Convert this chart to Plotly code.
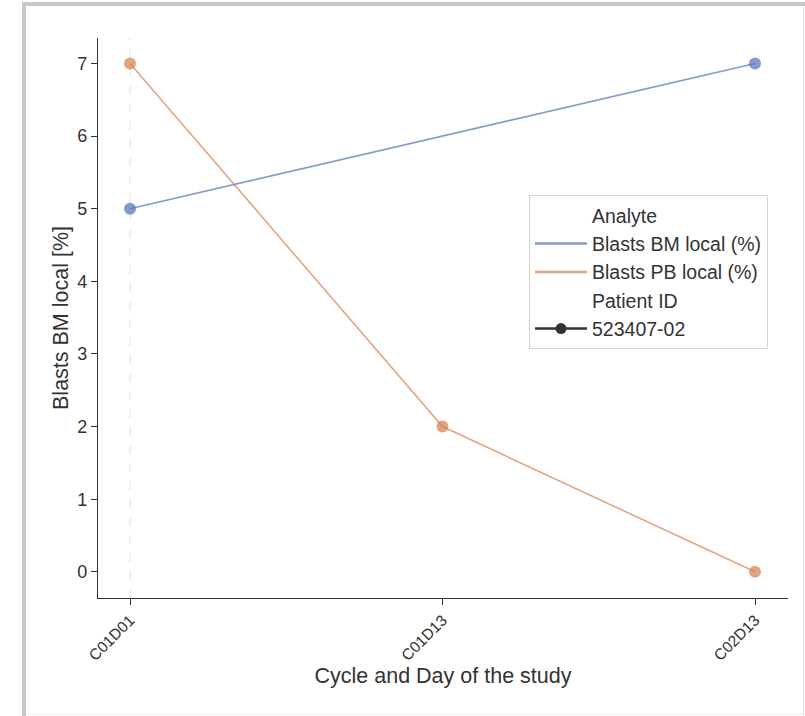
import plotly.graph_objects as go

# Study visits (category axis) and tick labels
visits = ["C01D01", "C01D13", "C02D13"]

# Analyte measurements per visit for patient 523407-02
bm_visits = ["C01D01", "C02D13"]
bm_values = [5, 7]
pb_visits = ["C01D01", "C01D13", "C02D13"]
pb_values = [7, 2, 0]

analytes = ["Blasts BM local (%)", "Blasts PB local (%)"]
patient_ids = ["523407-02"]
y_ticks = [0, 1, 2, 3, 4, 5, 6, 7]

BLUE = "rgba(82,118,182,0.72)"
ORANGE = "rgba(214,130,84,0.72)"
INK = "#333333"
FONT = "Liberation Sans, Arial, sans-serif"

W, H = 805, 716
L, R, T, B = 98, 17, 38, 118
PW, PH = W - L - R, H - T - B


def px_x(px):
    return (px - L) / PW


def px_y(py):
    return (H - B - py) / PH


fig = go.Figure()

for xs, ys, col in [(bm_visits, bm_values, BLUE), (pb_visits, pb_values, ORANGE)]:
    fig.add_trace(go.Scatter(
        x=xs, y=ys, mode="lines+markers",
        line=dict(color=col, width=1.6),
        marker=dict(color=col, size=12, line=dict(width=0)),
        showlegend=False, hoverinfo="x+y",
    ))

# Legend entries: group headers and styles
blank = "rgba(0,0,0,0)"
legend_rows = [
    ("Analyte", dict(color=blank, width=2), "lines", None),
    (analytes[0], dict(color=BLUE, width=2.5), "lines", None),
    (analytes[1], dict(color=ORANGE, width=2.5), "lines", None),
    ("Patient ID", dict(color=blank, width=2), "lines", None),
    (patient_ids[0], dict(color=INK, width=2.5), "lines+markers", dict(color=INK, size=11)),
]
for name, line, mode, marker in legend_rows:
    kw = dict(x=[None], y=[None], name=name, mode=mode, line=line, showlegend=True)
    if marker:
        kw["marker"] = marker
    fig.add_trace(go.Scatter(**kw))

shapes = [
    # dashed reference line at the first visit
    dict(type="line", xref="x", yref="paper", x0=visits[0], x1=visits[0], y0=0, y1=1,
         line=dict(color="#e0e0e0", width=1, dash="dash"), layer="below"),
    # outer frame
    dict(type="rect", xref="paper", yref="paper", x0=px_x(22), x1=px_x(26), y0=px_y(716), y1=px_y(2),
         fillcolor="#c8c8c8", line=dict(width=0)),
    dict(type="rect", xref="paper", yref="paper", x0=px_x(22), x1=px_x(805), y0=px_y(6), y1=px_y(2),
         fillcolor="#c8c8c8", line=dict(width=0)),
    dict(type="line", xref="paper", yref="paper", x0=px_x(803.5), x1=px_x(803.5), y0=px_y(716), y1=px_y(6),
         line=dict(color="#e6e6e6", width=1)),
    dict(type="line", xref="paper", yref="paper", x0=px_x(26), x1=px_x(805), y0=px_y(714.5), y1=px_y(714.5),
         line=dict(color="#eeeeee", width=1)),
]

fig.update_layout(
    width=W, height=H,
    margin=dict(l=L, r=R, t=T, b=B, pad=0),
    paper_bgcolor="white", plot_bgcolor="white",
    font=dict(family=FONT, color=INK),
    shapes=shapes,
    legend=dict(
        x=px_x(529), y=px_y(195), xanchor="left", yanchor="top",
        bgcolor="white", bordercolor="#d6d6d6", borderwidth=1,
        font=dict(size=19.5, color=INK), tracegroupgap=0, itemwidth=52,
    ),
    xaxis=dict(
        type="category", categoryorder="array", categoryarray=visits,
        range=[-(130 - 98) / 312.5, 2 + (788 - 755) / 312.5],
        showline=True, linecolor=INK, linewidth=1.3,
        ticks="outside", ticklen=6, tickwidth=1.3, tickcolor=INK,
        tickangle=-45, tickfont=dict(size=15.5, color=INK),
        showgrid=False, zeroline=False,
        title=dict(text="Cycle and Day of the study", font=dict(size=21.5, color=INK), standoff=4),
    ),
    yaxis=dict(
        range=[-0.36, 7.35],
        tickvals=y_ticks,
        showline=True, linecolor=INK, linewidth=1.3,
        ticks="outside", ticklen=6, tickwidth=1.3, tickcolor=INK,
        tickfont=dict(size=18, color=INK),
        showgrid=False, zeroline=False,
        title=dict(text="Blasts BM local [%]", font=dict(size=21.5, color=INK), standoff=2),
    ),
)

fig.write_html("out.html")
